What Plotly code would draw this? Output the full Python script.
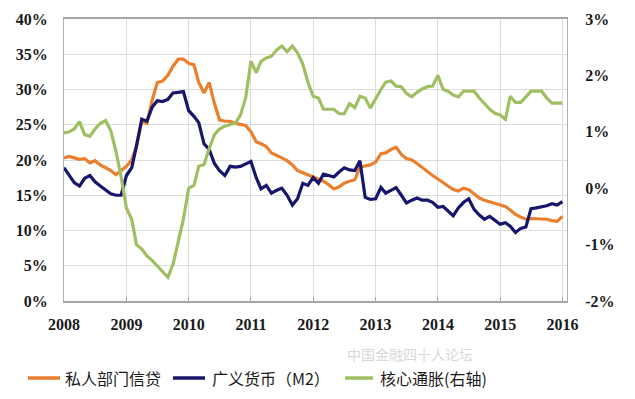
import pandas as pd
import plotly.graph_objects as go

dates = pd.date_range("2008-01-01", periods=97, freq="MS")

private_credit = [
    20.3, 20.5, 20.3, 20.1, 20.2, 19.6, 19.9, 19.3, 18.9, 18.5, 17.9, 18.5,
    19.1, 20.0, 22.0, 25.5, 25.2, 28.5, 31.0, 31.2, 32.0, 33.3, 34.3, 34.3,
    33.7, 33.5, 31.0, 29.5, 31.0, 28.0, 25.7, 25.5, 25.5, 25.2, 25.0, 24.9,
    24.0, 22.6, 22.3, 21.9, 21.0, 20.7, 20.3, 19.9, 19.3, 18.5, 18.2, 17.9,
    17.6, 17.2, 17.0, 16.5, 15.9, 16.2, 16.7, 17.0, 17.2, 19.0, 19.2, 19.3,
    19.7, 20.9, 21.0, 21.5, 21.8, 20.8, 20.2, 20.0, 19.5, 18.9, 18.4, 17.8,
    17.3, 16.8, 16.3, 15.8, 15.6, 16.0, 15.8, 15.2, 14.6, 14.3, 14.1, 13.9,
    13.7, 13.4, 12.9, 12.3, 11.9, 11.6, 11.7, 11.7, 11.6, 11.6, 11.4, 11.3,
    12.0,
]

m2 = [
    18.9, 17.8, 16.8, 16.3, 17.4, 17.8, 16.9, 16.3, 15.7, 15.2, 15.0, 15.0,
    17.8, 18.9, 22.0, 25.8, 25.5, 27.5, 28.4, 28.3, 28.6, 29.5, 29.6, 29.7,
    27.0, 26.2, 25.3, 22.3, 21.5, 19.5, 18.5, 17.8, 19.1, 19.0, 19.1, 19.4,
    19.8, 17.5, 15.9, 16.4, 15.3, 15.7, 16.0, 15.0, 13.6, 14.5, 16.7, 16.4,
    17.5, 16.7, 18.0, 17.8, 17.6, 18.3, 18.9, 18.6, 18.5, 19.9, 14.7, 14.4,
    14.5, 16.1, 15.3, 15.7, 16.1, 15.0, 13.9, 14.3, 14.6, 14.3, 14.3, 14.0,
    13.3, 13.4, 12.8, 12.1, 13.2, 14.0, 14.5, 13.0, 12.2, 11.6, 12.0, 11.5,
    10.9, 11.1, 10.6, 9.7, 10.3, 10.5, 13.1, 13.2, 13.3, 13.5, 13.8, 13.6,
    14.1,
]

core_inflation = [
    0.98, 1.00, 1.05, 1.18, 0.95, 0.92, 1.05, 1.15, 1.20, 1.02, 0.65, 0.20,
    -0.35, -0.55, -1.00, -1.08, -1.20, -1.28, -1.38, -1.48, -1.58, -1.35, -0.95, -0.55,
    0.00, 0.05, 0.39, 0.42, 0.70, 0.95, 1.05, 1.10, 1.13, 1.15, 1.30, 1.60,
    2.25, 2.05, 2.25, 2.31, 2.34, 2.45, 2.52, 2.42, 2.52, 2.40, 2.20, 1.88,
    1.63, 1.60, 1.40, 1.40, 1.40, 1.32, 1.32, 1.50, 1.43, 1.63, 1.60, 1.42,
    1.60, 1.75, 1.88, 1.90, 1.81, 1.80, 1.68, 1.62, 1.70, 1.76, 1.80, 1.81,
    2.00, 1.75, 1.72, 1.65, 1.62, 1.72, 1.72, 1.72, 1.60, 1.50, 1.40, 1.33,
    1.30, 1.22, 1.63, 1.52, 1.52, 1.62, 1.72, 1.72, 1.72, 1.60, 1.51, 1.51,
    1.51,
]

series_names = ["私人部门信贷", "广义货币（M2）", "核心通胀(右轴)"]
series_colors = ["#EA7F2E", "#17166C", "#A0BF62"]
left_ticks = [0, 5, 10, 15, 20, 25, 30, 35, 40]
right_ticks = [-2, -1, 0, 1, 2, 3]
year_ticks = [str(y) for y in range(2008, 2017)]
watermark = "中国金融四十人论坛"

tick_font = dict(family="Liberation Serif", size=16, color="#1a1a1a", weight="bold")

fig = go.Figure()
fig.add_trace(go.Scatter(x=dates, y=private_credit, name=series_names[0], mode="lines",
                         line=dict(color=series_colors[0], width=3.2)))
fig.add_trace(go.Scatter(x=dates, y=m2, name=series_names[1], mode="lines",
                         line=dict(color=series_colors[1], width=3.2)))
fig.add_trace(go.Scatter(x=dates, y=core_inflation, name=series_names[2], mode="lines",
                         line=dict(color=series_colors[2], width=3.2), yaxis="y2"))

# the page body adds an 8px offset; positions below are in screen pixels
OFF = 8
PL, PR, PT, PB = 64, 567, 19, 301


def px_x(p):
    return (p - PL) / (PR - PL)


def px_y(p):
    return (PB - p) / (PB - PT)


# watermark
fig.add_annotation(text=watermark, xref="paper", yref="paper",
                   x=px_x(345), y=px_y(354), xanchor="left", yanchor="middle", showarrow=False,
                   font=dict(family="Noto Sans CJK SC", size=14, color="#d9d9d9"))

# legend drawn manually for exact placement
legend_items = [(28, 60, 63), (173, 205, 210), (345, 373, 378)]
LEG_Y = 378
for (x0, x1, tx), name, col in zip(legend_items, series_names, series_colors):
    fig.add_shape(type="line", xref="paper", yref="paper",
                  x0=px_x(x0), x1=px_x(x1), y0=px_y(LEG_Y), y1=px_y(LEG_Y),
                  line=dict(color=col, width=3.5))
    fig.add_annotation(text=name, xref="paper", yref="paper",
                       x=px_x(tx), y=px_y(LEG_Y), xanchor="left", yanchor="middle",
                       showarrow=False,
                       font=dict(family="Noto Sans CJK SC", size=16, color="#1a1a1a"))

fig.update_layout(
    width=635, height=399,
    margin=dict(l=PL - OFF, r=635 - PR + OFF, t=PT - OFF, b=399 - PB + OFF),
    paper_bgcolor="white", plot_bgcolor="white",
    showlegend=False,
    xaxis=dict(
        type="date", range=["2008-01-01", "2016-01-28"],
        tickvals=[f"{y}-01-01" for y in year_ticks], ticktext=year_ticks,
        showgrid=True, gridcolor="#dcdcdc", gridwidth=1,
        showline=True, linecolor="#a6a6a6", linewidth=2, mirror=True,
        ticks="inside", ticklen=4, tickcolor="#a6a6a6",
        tickfont=tick_font, ticklabelstandoff=8, zeroline=False, automargin=False,
    ),
    yaxis=dict(
        range=[0, 40], tickvals=left_ticks, ticktext=[f"{v}%" for v in left_ticks],
        showgrid=True, gridcolor="#dcdcdc", gridwidth=1,
        showline=True, linecolor="#b0b0b0", linewidth=1,
        ticks="", tickfont=tick_font, ticklabelstandoff=12, zeroline=False,
        automargin=False,
    ),
    yaxis2=dict(
        range=[-2, 3], tickvals=right_ticks, ticktext=[f"{v}%" for v in right_ticks],
        overlaying="y", side="right", showgrid=False,
        showline=True, linecolor="#b0b0b0", linewidth=1,
        ticks="", tickfont=tick_font, ticklabelstandoff=14, zeroline=False,
        automargin=False,
    ),
)

fig.write_html("out.html")
